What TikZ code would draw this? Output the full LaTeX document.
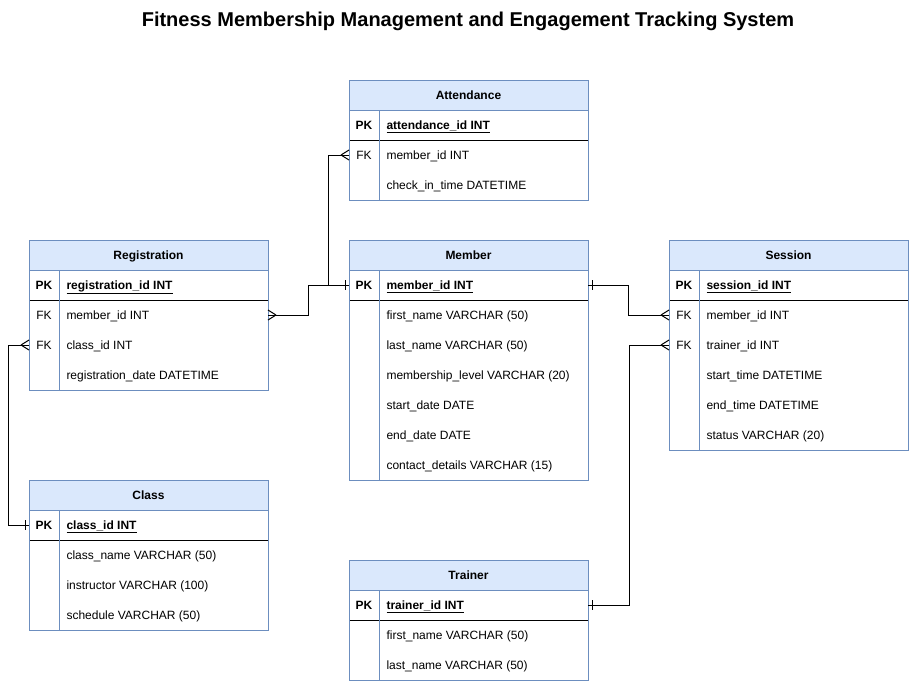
\documentclass[tikz,border=0pt]{standalone}
\usepackage{fontspec}
\setmainfont{Liberation Sans}
\usetikzlibrary{calc}
\definecolor{hdrfill}{HTML}{DAE8FC}
\definecolor{hdrline}{HTML}{6C8EBF}
\tikzset{
  cell/.style={inner sep=0pt, font=\fontsize{12}{14}\selectfont, text=black, text height=8.6pt, text depth=2.4pt, yshift=-1pt},
  keylbl/.style={cell, anchor=center},
  pklbl/.style={cell, anchor=center, font=\fontsize{12}{14}\selectfont\bfseries},
  fieldlbl/.style={cell, anchor=west},
  hdrlbl/.style={cell, anchor=center, font=\fontsize{12}{14}\selectfont\bfseries},
  boxline/.style={draw=hdrline, line width=1pt},
  conn/.style={draw=black, line width=1pt},
  titlelbl/.style={inner sep=0pt, font=\fontsize{20}{24}\selectfont\bfseries, text=black}
}
\newcommand{\ertable}[7]{%
  \begin{scope}[shift={(#2,#3)}]
    \fill[hdrfill] (0,0) rectangle (239,30);
    \node[hdrlbl] (#1) at (119.5,15) {#4};
    \draw[boxline] (0,30) -- (239,30);
    \draw[black, line width=1pt] (0,60) -- (239,60);
    \draw[boxline] (30,30) -- (30,{60+30*#6});
    \node[pklbl] (#1-k0) at (15,45) {PK};
    \node[fieldlbl] (#1-f0) at (37,45) {\bfseries\underline{#5}};
    \coordinate (#1-L0) at (0,45);
    \coordinate (#1-R0) at (239,45);
    \foreach \k/\t [count=\i] in {#7} {
      \node[keylbl] (#1-k\i) at (15,{45+30*\i}) {\k};
      \node[fieldlbl] (#1-f\i) at (37,{45+30*\i}) {\t};
      \coordinate (#1-L\i) at (0,{45+30*\i});
      \coordinate (#1-R\i) at (239,{45+30*\i});
    }
    \draw[boxline] (0,0) rectangle (239,{60+30*#6});
  \end{scope}
}
% crow foot (many) at an entity edge point; #2 = +1 if the line leaves to the right, -1 to the left
\newcommand{\crowfoot}[2]{%
  \draw[conn] (#1) ++({8*#2},0) coordinate (cf) -- ++({-8*#2},-5) (cf) -- ++({-8*#2},5);
}
% single bar (one) near an entity edge point
\newcommand{\onebar}[2]{%
  \draw[conn] (#1) ++({4*#2},-5) -- ++(0,10);
}
\begin{document}
\begin{tikzpicture}[x=1pt, y=-1pt, line width=1pt]
  \useasboundingbox (0,0) rectangle (909,681);
  \node[titlelbl] (title) at (468,21) {Fitness Membership Management and Engagement Tracking System};

  \ertable{att}{349}{80}{Attendance}{attendance\_id INT}{2}{FK/member\_id INT, /check\_in\_time DATETIME}
  \ertable{reg}{29}{240}{Registration}{registration\_id INT}{3}{FK/member\_id INT, FK/class\_id INT, /registration\_date DATETIME}
  \ertable{mem}{349}{240}{Member}{member\_id INT}{6}{/first\_name VARCHAR (50), /last\_name VARCHAR (50), /membership\_level VARCHAR (20), /start\_date DATE, /end\_date DATE, /contact\_details VARCHAR (15)}
  \ertable{ses}{669}{240}{Session}{session\_id INT}{5}{FK/member\_id INT, FK/trainer\_id INT, /start\_time DATETIME, /end\_time DATETIME, /status VARCHAR (20)}
  \ertable{cls}{29}{480}{Class}{class\_id INT}{3}{/class\_name VARCHAR (50), /instructor VARCHAR (100), /schedule VARCHAR (50)}
  \ertable{trn}{349}{560}{Trainer}{trainer\_id INT}{2}{/first\_name VARCHAR (50), /last\_name VARCHAR (50)}

  % connectors
  \draw[conn] (att-L1) -- ++(-21,0) |- (mem-L0);
  \draw[conn] (reg-R1) -- ++(40,0) |- (mem-L0);
  \draw[conn] (reg-L2) -- ++(-21,0) |- (cls-L0);
  \draw[conn] (mem-R0) -- ++(40,0) |- (ses-L1);
  \draw[conn] (trn-R0) -- ++(41,0) |- (ses-L2);

  % end marks
  \crowfoot{att-L1}{-1}
  \crowfoot{reg-R1}{1}
  \crowfoot{reg-L2}{-1}
  \crowfoot{ses-L1}{-1}
  \crowfoot{ses-L2}{-1}
  \onebar{mem-L0}{-1}
  \onebar{cls-L0}{-1}
  \onebar{mem-R0}{1}
  \onebar{trn-R0}{1}
\end{tikzpicture}
\end{document}
